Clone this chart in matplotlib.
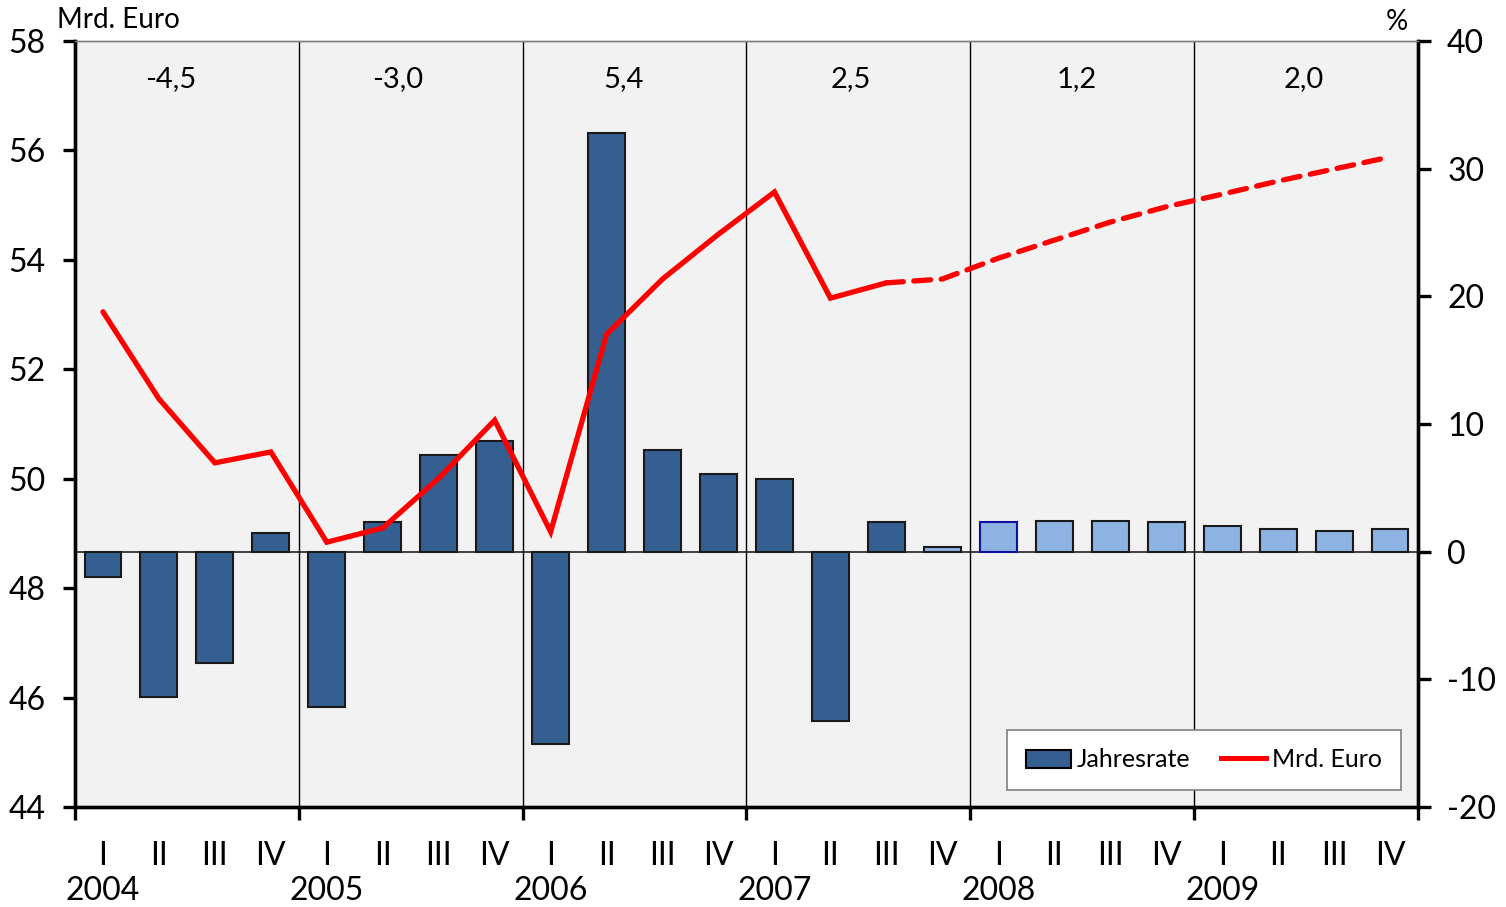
import numpy as np
import matplotlib
matplotlib.use("Agg")
import matplotlib.pyplot as plt
from matplotlib.patches import Patch
from matplotlib.lines import Line2D

plt.rcParams['font.family'] = ['Lato', 'DejaVu Sans']
plt.rcParams['axes.unicode_minus'] = False

# Data
years = ['2004', '2005', '2006', '2007', '2008', '2009']
quarters = ['I', 'II', 'III', 'IV']
annual_rates = ['-4,5', '-3,0', '5,4', '2,5', '1,2', '2,0']

# Jahresrate in % (right axis)
jahresrate = [-2.0, -11.4, -8.7, 1.5,
              -12.2, 2.3, 7.6, 8.7,
              -15.1, 32.8, 8.0, 6.1,
              5.7, -13.3, 2.3, 0.4,
              2.3, 2.4, 2.4, 2.3,
              2.0, 1.8, 1.6, 1.8]

# Mrd. Euro (left axis)
mrd_euro = [53.05, 51.46, 50.29, 50.49,
            48.84, 49.10, 50.01, 51.07,
            49.03, 52.64, 53.65, 54.47,
            55.24, 53.30, 53.58, 53.65,
            54.03, 54.36, 54.69, 54.97,
            55.20, 55.44, 55.66, 55.88]

n_actual_line = 15   # solid up to 2007 III
n_actual_bars = 15   # dark bars up to 2007 III

dark = '#365f91'
light = '#8db3e2'

fig = plt.figure(figsize=(15.06, 9.07), dpi=100)
ax = fig.add_axes([75/1506, 1 - 807/907, 1343/1506, 766/907])
ax2 = ax.twinx()

x = np.arange(len(jahresrate))
colors = [dark] * n_actual_bars + [light] * (len(jahresrate) - n_actual_bars)
edges = ['#1a1a1a'] * len(jahresrate)
edges[16] = '#1010a0'
ax.set_facecolor('#f2f2f2')
ax.bar(x, jahresrate, width=0.66, color=colors, edgecolor=edges, linewidth=1.5, zorder=3)
ax.axhline(0, color='#222222', lw=1.2, zorder=2)
ax.set_ylim(-20, 40)
ax.set_yticks(np.arange(-20, 41, 10))
ax.yaxis.tick_right()
ax.set_xlim(-0.5, len(x) - 0.5)

for b in np.arange(3.5, len(x) - 1, 4):
    ax.axvline(b, color='black', lw=1.0, zorder=1)

# line on the other axes, drawn above
ax2.patch.set_visible(False)
ax2.plot(x[:n_actual_line], mrd_euro[:n_actual_line], color='#ff0000', lw=3.8,
         solid_capstyle='round', solid_joinstyle='miter', zorder=4)
ax2.plot(x[n_actual_line - 1:], mrd_euro[n_actual_line - 1:], color='#ff0000', lw=3.8,
         dashes=(3.2, 2.0), dash_capstyle='round', zorder=4)
ax2.set_ylim(44, 58)
ax2.set_yticks(np.arange(44, 59, 2))
ax2.yaxis.tick_left()

for a in (ax, ax2):
    a.spines['top'].set_color('#808080')
    a.spines['top'].set_linewidth(1.0)
    for s in ('left', 'right', 'bottom'):
        a.spines[s].set_linewidth(2.4)
        a.spines[s].set_color('black')
    a.tick_params(axis='y', labelsize=23, width=2.4, length=9, direction='out', pad=12)

# x axis: ticks at year boundaries, labels custom
ax.set_xticks(np.arange(-0.5, len(x), 4))
ax.set_xticklabels([])
ax.tick_params(axis='x', width=2.4, length=9, direction='out')

for i in x:
    ax.text(i, -0.064, quarters[i % 4], transform=ax.get_xaxis_transform(),
            ha='center', va='center', fontsize=23)
for k, yr in enumerate(years):
    ax.text(4 * k, -0.110, yr, transform=ax.get_xaxis_transform(),
            ha='center', va='center', fontsize=23)
    # annual rate labels sit a little left of the year's centre
    ax.text(1.21 + 4.05 * k, 0.950, annual_rates[k], transform=ax.get_xaxis_transform(),
            ha='center', va='center', fontsize=21)

fig.text(57/1506, 1 - 20/907, 'Mrd. Euro', ha='left', va='center', fontsize=20)
fig.text(1397/1506, 1 - 22/907, '%', ha='center', va='center', fontsize=20)

handles = [Patch(facecolor=dark, edgecolor='black', linewidth=1.5),
           Line2D([0], [0], color='#ff0000', lw=3.6)]
leg = ax2.legend(handles, ['Jahresrate', 'Mrd. Euro'], ncol=2, loc='lower right',
                 bbox_to_anchor=(0.987, 0.022), fontsize=18, frameon=True,
                 fancybox=False, edgecolor='#808080', framealpha=1,
                 handlelength=1.8, handleheight=0.75, handletextpad=0.25,
                 columnspacing=1.2, borderpad=0.75, borderaxespad=0)
leg.get_frame().set_linewidth(1.2)
leg.set_zorder(10)

fig.savefig('out.png', dpi=100)
